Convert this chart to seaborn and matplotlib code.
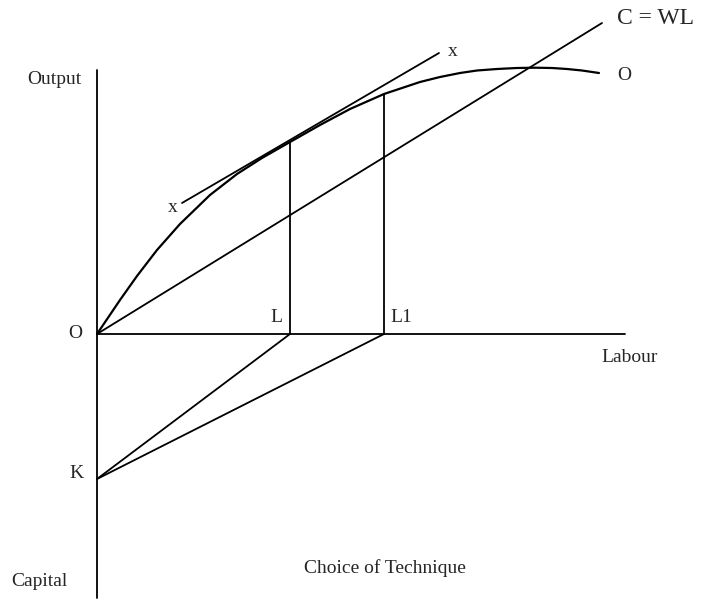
import numpy as np
import pandas as pd
import seaborn as sns
import matplotlib
matplotlib.use("Agg")
import matplotlib.pyplot as plt

sns.set_theme(style="white")
plt.rcParams['font.family'] = ['Liberation Serif', 'DejaVu Serif']

# production curve O (labour, output), origin at O
curve_labour = [0, 23, 40, 60, 83, 113, 140, 165, 193, 223, 253, 287, 323, 343, 363,
                380, 400, 420, 438, 455, 470, 485, 502]
curve_output = [0, 34, 58, 84, 110, 139, 160, 176, 192, 209, 225, 240, 252, 257, 261,
                263.5, 265, 266, 266.3, 266, 265, 263.5, 261]

# tangent x-x
tangent_labour = [85, 342]
tangent_output = [131, 281]

# cost line C = WL
cost_labour = [0, 505]
cost_output = [0, 311]

# techniques
L = 193
L1 = 287
out_L = 192
out_L1 = 240
K = -145

axis_top = 264
axis_bottom = -264
axis_right = 528

df = pd.DataFrame({"labour": curve_labour, "output": curve_output})

fig = plt.figure(figsize=(7.05, 6.01), dpi=100)
ax = fig.add_axes([0, 0, 1, 1])
ax.set_xlim(-97, 608)
ax.set_ylim(-267, 334)
ax.axis("off")

lw = 1.3
# axes
ax.plot([0, 0], [axis_bottom, axis_top], color="black", lw=lw)
ax.plot([0, axis_right], [0, 0], color="black", lw=lw)

sns.lineplot(data=df, x="labour", y="output", sort=False, color="black", lw=1.6, ax=ax)
ax.plot(tangent_labour, tangent_output, color="black", lw=lw)
ax.plot(cost_labour, cost_output, color="black", lw=lw)

ax.plot([L, L], [0, out_L], color="black", lw=lw)
ax.plot([L1, L1], [0, out_L1], color="black", lw=lw)
ax.plot([0, L], [K, 0], color="black", lw=lw)
ax.plot([0, L1], [K, 0], color="black", lw=lw)

fs = 14
ax.text(-15, 254, "Output", ha="right", va="center", fontsize=fs)
ax.text(-15, 0, "O", ha="right", va="center", fontsize=fs)
ax.text(L - 8, 8, "L", ha="right", va="bottom", fontsize=fs)
ax.text(L1 + 6, 8, "L1", ha="left", va="bottom", fontsize=fs)
ax.text(axis_right - 24, -23, "Labour", ha="left", va="center", fontsize=fs)
ax.text(-13, K + 6, "K", ha="right", va="center", fontsize=fs)
ax.text(-29, -248, "Capital", ha="right", va="center", fontsize=fs)
ax.text(288, -234, "Choice of Technique", ha="center", va="center", fontsize=fs)
ax.text(76, 127, "x", ha="center", va="center", fontsize=fs)
ax.text(356, 282, "x", ha="center", va="center", fontsize=fs)
ax.text(520, 316, "C = WL", ha="left", va="center", fontsize=17)
ax.text(520, 259, "O", ha="left", va="center", fontsize=fs)

fig.savefig("out.png", dpi=100)
